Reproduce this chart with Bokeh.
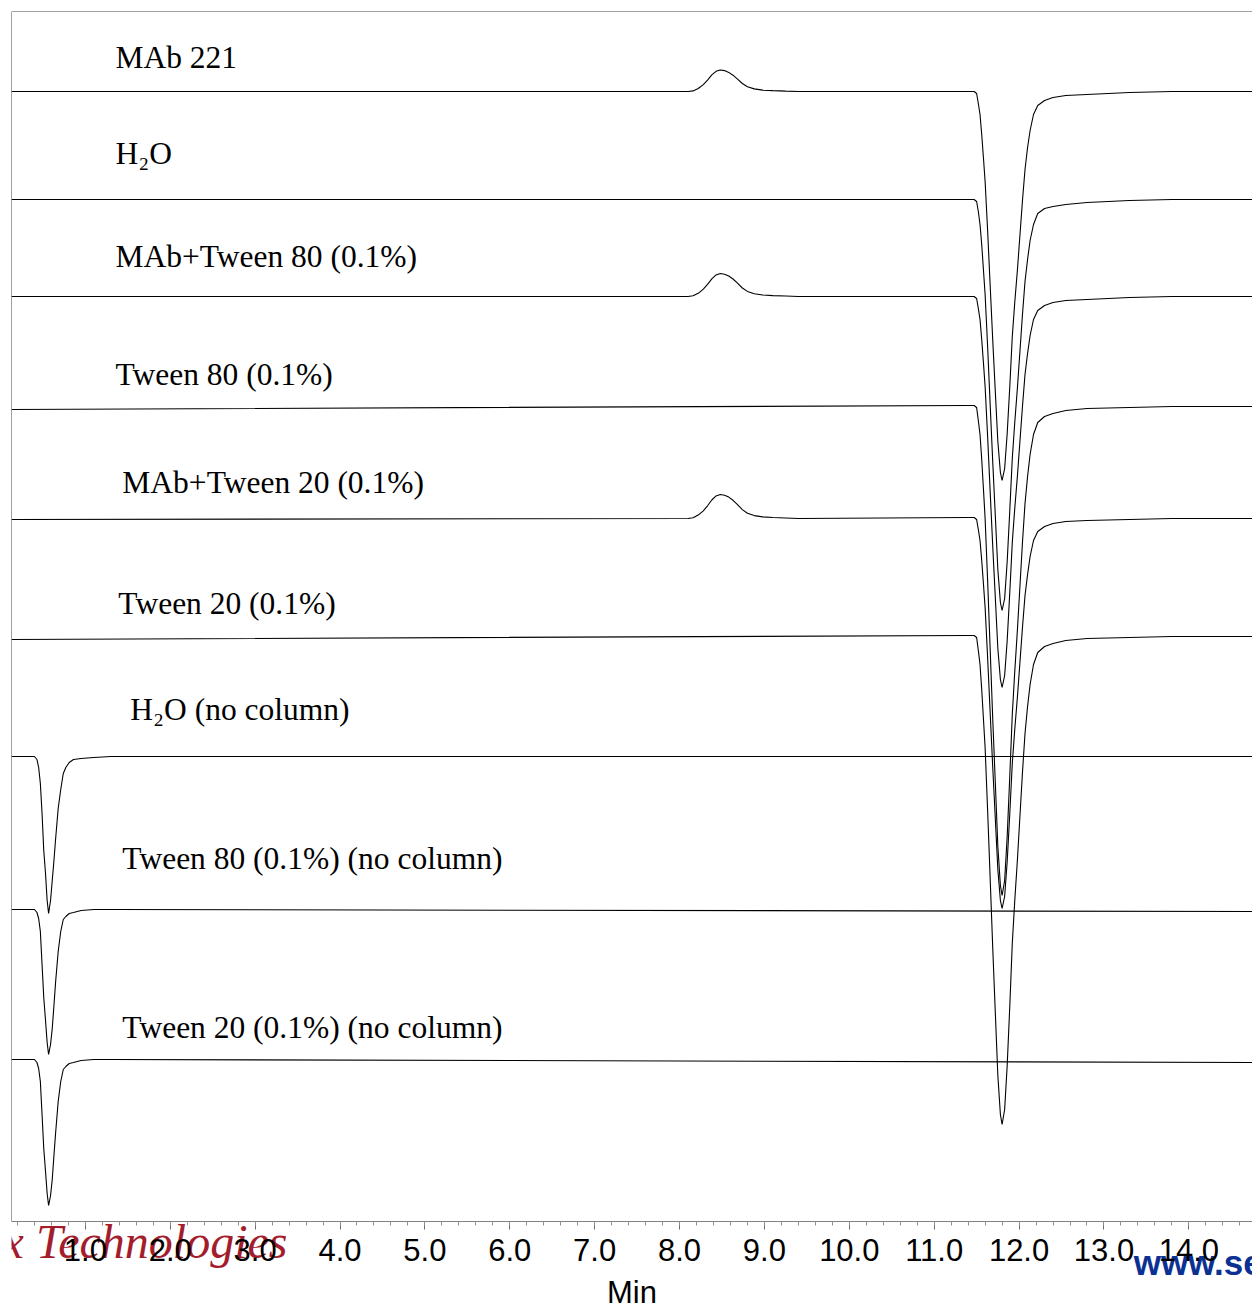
from bokeh.plotting import figure
from bokeh.models import Range1d, FixedTicker, PrintfTickFormatter, Label, LinearAxis
from bokeh.embed import file_html
from bokeh.resources import INLINE

# ---------------- data ----------------
T_START = 0.13
T_END = 14.75

MAJOR_TICKS = [1.0, 2.0, 3.0, 4.0, 5.0, 6.0, 7.0, 8.0, 9.0, 10.0, 11.0, 12.0, 13.0, 14.0]

# small positive protein peak (~8.5 min)
SMALL_T = [8.10, 8.16, 8.22, 8.28, 8.33, 8.38, 8.43, 8.48, 8.53, 8.58, 8.63, 8.68,
           8.74, 8.80, 8.88, 8.98, 9.10, 9.25, 9.40]
# large negative system peak (~11.8 min)
BIG_T = [11.40, 11.47, 11.50, 11.52, 11.54, 11.56, 11.58, 11.60, 11.63, 11.66, 11.69,
         11.72, 11.75, 11.78, 11.80, 11.83, 11.86, 11.89, 11.92, 11.95, 11.98, 12.01,
         12.04, 12.07, 12.10, 12.13, 12.17, 12.22, 12.30, 12.40, 12.55, 12.80, 13.30,
         13.80, 14.75]
# early negative peak (no column, ~0.57 min)
EARLY_T = [0.13, 0.40, 0.43, 0.45, 0.47, 0.49, 0.51, 0.53, 0.55, 0.567, 0.59, 0.61,
           0.63, 0.65, 0.68, 0.71, 0.74, 0.77, 0.81, 0.86, 0.95, 1.10, 1.30, 14.75]

# trace baselines (signal offsets)
OFFSETS = [1130, 1022, 925, 816, 704, 586, 465, 312, 162]

# 1 MAb 221
S1 = ([0]
      + [0, 0.6, 3.0, 6.9, 11.4, 16.6, 20.2, 21.5, 20.9, 19.1, 16.3, 12.7, 8.0, 4.7, 2.6, 1.4, 0.9, 0.4, 0]
      + [0, 0, -2, -12, -23, -43, -66, -90, -140, -195, -249, -300, -350, -381, -389, -377,
         -342, -296, -245, -210, -179, -144, -109, -78, -56, -39, -23, -14, -9, -6, -4, -3, -1, 0, 0])
# 2 H2O
S2 = ([0]
      + [0, 0, -2, -12, -25, -45, -70, -95, -148, -206, -263, -316, -370, -403, -411, -399,
         -362, -312, -259, -222, -189, -152, -115, -82, -60, -41, -25, -14, -9, -7, -5, -3, -1, 0, 0])
# 3 MAb + Tween 80
S3 = ([0]
      + [0, 0.7, 3.2, 7.4, 12.2, 17.7, 21.6, 23, 22.3, 20.5, 17.5, 13.6, 8.5, 5.1, 2.8, 1.5, 0.9, 0.5, 0]
      + [0, 0, -2, -12, -23, -43, -66, -90, -141, -196, -250, -301, -352, -383, -391, -379,
         -344, -297, -246, -211, -180, -145, -110, -78, -57, -39, -23, -14, -9, -6, -4, -3, -1, 0, 0])
# 4 Tween 80
S4 = ([-4]
      + [0, 0, -2, -15, -29, -54, -83, -113, -176, -245, -314, -377, -441, -480, -490, -475,
         -431, -372, -309, -265, -225, -181, -137, -98, -71, -49, -29, -17, -11, -8, -5, -3, -2, -1, -1])
# 5 MAb + Tween 20
S5 = ([-2]
      + [-1, -0.3, 2.4, 6.7, 11.7, 17.5, 21.6, 23, 22.3, 20.4, 17.2, 13.2, 7.9, 4.3, 1.9, 0.6, 0, -0.5, -1]
      + [0, 0, -2, -12, -23, -43, -66, -90, -141, -196, -250, -301, -352, -383, -391, -379,
         -344, -297, -246, -211, -180, -145, -110, -78, -57, -39, -23, -14, -9, -6, -4, -3, -2, -1, -1])
# 6 Tween 20
S6 = ([-4]
      + [0, 0, -2, -15, -29, -54, -83, -112, -176, -244, -313, -377, -440, -479, -489, -474,
         -430, -372, -308, -264, -225, -181, -137, -98, -71, -49, -29, -17, -11, -8, -5, -3, -2, -1, -1])
# 7 H2O (no column)
S7 = [0, 0, -3, -11, -27, -57, -94, -116, -144, -157, -144, -124, -104, -82, -52, -33,
      -17, -11, -6, -3, -2, -1, 0, 0]
# 8 Tween 80 (no column)
S8 = [0, 0, -3, -9, -22, -55, -88, -110, -133, -145, -135, -119, -96, -72, -42, -22,
      -10, -7, -4, -3, -1, 0, 0, -2]
# 9 Tween 20 (no column)
S9 = [0, 0, -3, -9, -22, -55, -89, -111, -134, -146, -136, -120, -96, -73, -42, -22,
      -10, -7, -4, -3, -1, 0, 0, -3]

T_PROTEIN = [T_START] + SMALL_T + BIG_T
T_COLUMN = [T_START] + BIG_T

TIMES = [T_PROTEIN, T_COLUMN, T_PROTEIN, T_COLUMN, T_PROTEIN, T_COLUMN, EARLY_T, EARLY_T, EARLY_T]
SIGNALS = [S1, S2, S3, S4, S5, S6, S7, S8, S9]

LABEL_TEXT = ["MAb 221", "H\u2082O", "MAb+Tween 80 (0.1%)", "Tween 80 (0.1%)",
              "MAb+Tween 20 (0.1%)", "Tween 20 (0.1%)", "H\u2082O (no column)",
              "Tween 80 (0.1%) (no column)", "Tween 20 (0.1%) (no column)"]
LABEL_POS = [(1.354, 1164), (1.354, 1068), (1.354, 965), (1.354, 847), (1.436, 739),
             (1.389, 618), (1.530, 512), (1.436, 363), (1.436, 194)]

Y_TOP = 1210      # top of the plotting box
Y_BOTTOM = -87    # room below the time axis (axis drawn at signal 0)

# ---------------- figure ----------------
p = figure(width=1252, height=1308, output_backend="svg", toolbar_location=None,
           x_range=Range1d(T_START, T_END), y_range=Range1d(Y_BOTTOM, Y_TOP),
           y_axis_location=None, min_border_left=11, min_border_right=0,
           min_border_top=11, min_border_bottom=0)
p.xgrid.visible = False
p.ygrid.visible = False
p.outline_line_color = None
p.background_fill_color = "white"
p.border_fill_color = "white"

# time axis, drawn at signal 0 inside the canvas
ax = p.xaxis[0]
ax.fixed_location = 0
minor = [round(0.2 * i, 1) for i in range(1, 74)]
ax.ticker = FixedTicker(ticks=MAJOR_TICKS, minor_ticks=minor)
ax.formatter = PrintfTickFormatter(format="%.1f")
ax.axis_line_color = "#808080"
ax.major_tick_line_color = "#707070"
ax.minor_tick_line_color = "#909090"
ax.major_tick_out = 8
ax.major_tick_in = 0
ax.minor_tick_out = 4
ax.minor_tick_in = 0
ax.major_label_text_font = "Liberation Sans"
ax.major_label_text_font_size = "31px"
ax.major_label_text_color = "black"
ax.major_label_standoff = 9
ax.axis_label = "Min"
ax.axis_label_text_font = "Liberation Sans"
ax.axis_label_text_font_size = "31px"
ax.axis_label_text_font_style = "normal"
ax.axis_label_text_color = "black"
ax.axis_label_standoff = 11

# box border: left and top lines
left_ax = LinearAxis(fixed_location=T_START, bounds=(0, Y_TOP), ticker=FixedTicker(ticks=[]),
                     axis_line_color="#444444", axis_line_width=1,
                     major_tick_line_color=None, minor_tick_line_color=None)
p.add_layout(left_ax, "left")
top_ax = LinearAxis(fixed_location=Y_TOP, ticker=FixedTicker(ticks=[]),
                    axis_line_color="#444444", axis_line_width=1,
                    major_tick_line_color=None, minor_tick_line_color=None)
p.add_layout(top_ax, "above")

for t, s, off in zip(TIMES, SIGNALS, OFFSETS):
    p.line([float(v) for v in t], [off + v for v in s], line_color="black", line_width=1.1)

for txt, (lx, ly) in zip(LABEL_TEXT, LABEL_POS):
    p.add_layout(Label(x=lx, y=ly, text=txt, text_font="Liberation Serif",
                       text_font_size="31.5px", text_color="black",
                       text_baseline="alphabetic", text_align="left"))

# watermarks (under the axis texts)
p.add_layout(Label(x=3.381, y=-20, text="Sepax Technologies", text_align="right",
                   text_baseline="alphabetic", text_font="Liberation Serif",
                   text_font_style="italic", text_font_size="48px", text_color="#a31d2d",
                   level="underlay"))
p.add_layout(Label(x=13.351, y=-41, text="www.sepax-tech.com", text_align="left",
                   text_baseline="alphabetic", text_font="Liberation Sans",
                   text_font_style="bold", text_font_size="35px", text_color="#0b3192",
                   level="underlay"))

open("out.html", "w").write(file_html(p, INLINE))
